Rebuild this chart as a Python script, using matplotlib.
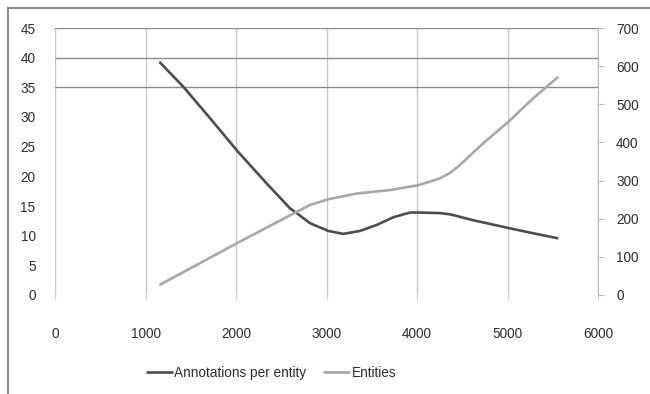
import matplotlib
matplotlib.use("Agg")
import matplotlib.pyplot as plt
from matplotlib.lines import Line2D

# Annotations per entity (left axis)
ann_x = [1153, 1418, 1713, 2019, 2339, 2597, 2671, 2818, 3020, 3186, 3370,
         3554, 3738, 3923, 4014, 4254, 4365, 4622, 5009, 5285, 5561]
ann_y = [39.3, 35.1, 29.8, 24.2, 18.8, 14.6, 13.8, 12.1, 10.8, 10.3, 10.8,
         11.8, 13.1, 13.9, 13.9, 13.8, 13.6, 12.6, 11.3, 10.4, 9.55]

# Entities (right axis)
ent_x = [1153, 2019, 2671, 2818, 3020, 3333, 3702, 4014, 4180, 4254, 4365,
         4475, 4733, 5009, 5285, 5561]
ent_y = [26, 137, 218, 236, 251, 266, 275, 288, 300, 306, 320,
         341, 398, 454, 516, 572]

x_ticks = [0, 1000, 2000, 3000, 4000, 5000, 6000]
left_ticks = [0, 5, 10, 15, 20, 25, 30, 35, 40, 45]
right_ticks = [0, 100, 200, 300, 400, 500, 600, 700]

plt.rcParams['font.family'] = ['Liberation Sans', 'DejaVu Sans']
text_col = '#2e2e2e'

fig = plt.figure(figsize=(6.5, 3.94), dpi=100)
ax = fig.add_axes([55 / 650, 1 - 295 / 394, 543 / 650, 267 / 394])
ax2 = ax.twinx()

ax.set_xlim(0, 6000)
ax.set_ylim(0, 45)
ax2.set_ylim(0, 700)

# grid: vertical every 1000, horizontal only at the top levels
for xv in x_ticks:
    ax.axvline(xv, color='#c8c8c8', lw=1.0, zorder=0)
for yv in [35, 40, 45]:
    ax.axhline(yv, color='#8c8c8c', lw=1.0, zorder=0)

ax.plot(ann_x, ann_y, color='#4d4d4d', lw=1.9, solid_capstyle='butt',
        label='Annotations per entity', zorder=3)
ax2.plot(ent_x, ent_y, color='#a8a8a8', lw=1.9, solid_capstyle='butt',
         label='Entities', zorder=3)

for a in (ax, ax2):
    for s in a.spines.values():
        s.set_visible(False)
ax2.spines['right'].set_visible(True)
ax2.spines['right'].set_color('#bdbdbd')

ax.set_xticks(x_ticks)
ax.set_yticks(left_ticks)
ax2.set_yticks(right_ticks)
ax.tick_params(axis='x', length=3, color='#c8c8c8', pad=20,
               labelsize=9.8, labelcolor=text_col)
ax.tick_params(axis='y', length=0, pad=14, labelsize=9.8, labelcolor=text_col)
ax2.tick_params(axis='y', length=4, color='#bdbdbd', pad=9,
                labelsize=9.8, labelcolor=text_col)

h1, l1 = ax.get_legend_handles_labels()
h2, l2 = ax2.get_legend_handles_labels()
leg = fig.legend(h1 + h2, l1 + l2, loc='center', ncol=2,
                 bbox_to_anchor=(271 / 650, 1 - 373 / 394), frameon=False,
                 handlelength=2.0, handletextpad=0.1, columnspacing=1.2,
                 fontsize=9.8)
for t in leg.get_texts():
    t.set_color(text_col)

# outer chart frame (clipped at right and bottom)
fig.add_artist(Line2D([8 / 650, 8 / 650], [1 - 8 / 394, 0], color='#8c8c8c',
                      lw=1.5, transform=fig.transFigure))
fig.add_artist(Line2D([8 / 650, 1], [1 - 8 / 394, 1 - 8 / 394], color='#8c8c8c',
                      lw=1.5, transform=fig.transFigure))

fig.savefig('out.png', dpi=100)
